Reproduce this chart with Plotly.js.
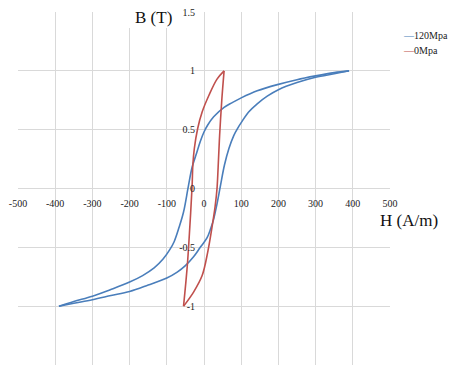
<!DOCTYPE html>
<html>
<head>
<meta charset="utf-8">
<script src="https://cdn.plot.ly/plotly-3.0.1.min.js"></script>
<style>html,body{margin:0;padding:0;background:#fff;}#chart{width:451px;height:367px;}</style>
</head>
<body>
<div id="chart"></div>
<script>
// 120 MPa loop: descending (upper) branch and ascending (lower) branch
var blueDescH = [390, 350, 300, 250, 200, 143, 100, 76, 54, 26, 10, 0, -10, -20, -32, -42, -55, -67, -80, -92, -110, -134, -165, -200, -252, -300, -350, -390];
var blueDescB = [1.0, 0.985, 0.957, 0.925, 0.885, 0.83, 0.77, 0.73, 0.69, 0.61, 0.54, 0.48, 0.40, 0.30, 0.18, 0.02, -0.20, -0.33, -0.45, -0.52, -0.60, -0.675, -0.74, -0.795, -0.86, -0.915, -0.96, -1.0];
var blueAscH = [-390, -350, -300, -250, -200, -150, -100, -72, -50, -28, -10, 8, 18, 26, 35, 44, 55, 67, 80, 92, 100, 120, 143, 170, 200, 250, 300, 350, 390];
var blueAscB = [-1.0, -0.975, -0.945, -0.91, -0.875, -0.82, -0.76, -0.71, -0.655, -0.58, -0.50, -0.42, -0.34, -0.26, -0.13, 0.02, 0.20, 0.34, 0.45, 0.52, 0.56, 0.65, 0.72, 0.785, 0.84, 0.90, 0.945, 0.975, 1.0];
// 0 MPa loop
var redDescH = [54, 35, 13, -5, -17, -26, -30, -32, -38, -45, -55];
var redDescB = [1.0, 0.93, 0.79, 0.65, 0.51, 0.34, 0.20, 0.02, -0.32, -0.66, -1.0];
var redAscH = [-55, -28, -5, 10, 22, 30, 35, 38, 42, 48, 54];
var redAscB = [-1.0, -0.88, -0.74, -0.54, -0.32, -0.15, 0.0, 0.18, 0.45, 0.76, 1.0];

var seriesNames = ['120Mpa', '0Mpa'];
var xTickVals = [-500, -400, -300, -200, -100, 0, 100, 200, 300, 400, 500];
var xTickText = ['-500', '-400', '-300', '-200', '-100', '0', '100', '200', '300', '400', '500'];
var yTickVals = [-1.5, -1, -0.5, 0, 0.5, 1, 1.5];
var yTickText = ['-1.5', '-1', '-0.5', '0', '0.5', '1', '1.5'];

var blue = '#4a7ebb', red = '#c0504d';
var serif = 'Liberation Serif';

function branch(x, y, color, name, show) {
  return {x: x, y: y, type: 'scatter', mode: 'lines', name: name, legendgroup: name,
    showlegend: show, line: {color: color, width: 1.6, shape: 'spline', smoothing: 1},
    hoverinfo: 'skip'};
}

var data = [
  branch(blueDescH, blueDescB, blue, seriesNames[0], true),
  branch(blueAscH, blueAscB, blue, seriesNames[0], false),
  branch(redDescH, redDescB, red, seriesNames[1], true),
  branch(redAscH, redAscB, red, seriesNames[1], false)
];

var layout = {
  width: 451, height: 367,
  margin: {l: 18, r: 61, t: 12, b: 2, pad: 0},
  paper_bgcolor: '#fff', plot_bgcolor: '#fff',
  showlegend: false,
  font: {family: serif, size: 10, color: '#222'},
  xaxis: {
    range: [-500, 500], tickmode: 'array', tickvals: xTickVals, ticktext: xTickText,
    anchor: 'free', position: 0.5, showline: false, zeroline: false,
    showgrid: true, gridcolor: '#d9d9d9', gridwidth: 1,
    ticks: 'outside', ticklen: 5, tickcolor: 'rgba(0,0,0,0)',
    tickfont: {family: serif, size: 10, color: '#222'}, fixedrange: true
  },
  yaxis: {
    range: [-1.5, 1.5], tickmode: 'array', tickvals: yTickVals, ticktext: yTickText,
    anchor: 'free', position: 0.5, showline: false, zeroline: false,
    showgrid: true, gridcolor: '#d9d9d9', gridwidth: 1,
    ticks: 'outside', ticklen: 7, tickcolor: 'rgba(0,0,0,0)',
    tickfont: {family: serif, size: 10, color: '#222'}, fixedrange: true
  },
  shapes: [
    {type: 'rect', xref: 'paper', yref: 'paper', x0: (128 - 18) / 372, x1: (177 - 18) / 372,
     y0: (365 - 28) / 353, y1: (365 + 2) / 353, fillcolor: '#fff', line: {width: 0}, layer: 'above'}
  ],
  annotations: [
    {text: 'B (T)', xref: 'paper', yref: 'paper', x: (153 - 18) / 372, y: (365 - 18) / 353,
     xanchor: 'center', yanchor: 'middle', showarrow: false,
     font: {family: serif, size: 17, color: '#111'}},
    {text: 'H (A/m)', xref: 'paper', yref: 'paper', x: (408.5 - 18) / 372, y: (365 - 220) / 353,
     xanchor: 'center', yanchor: 'middle', showarrow: false,
     font: {family: serif, size: 17, color: '#111'}},
    {text: '<span style="color:' + blue + '">\u2014</span>' + seriesNames[0], xref: 'paper', yref: 'paper',
     x: (401 - 18) / 372, y: (365 - 36) / 353, xanchor: 'left', yanchor: 'middle', showarrow: false,
     font: {family: serif, size: 10, color: '#222'}},
    {text: '<span style="color:' + red + '">\u2014</span>' + seriesNames[1], xref: 'paper', yref: 'paper',
     x: (401 - 18) / 372, y: (365 - 50) / 353, xanchor: 'left', yanchor: 'middle', showarrow: false,
     font: {family: serif, size: 10, color: '#222'}}
  ]
};

Plotly.newPlot('chart', data, layout, {displayModeBar: false, staticPlot: true});
</script>
</body>
</html>
